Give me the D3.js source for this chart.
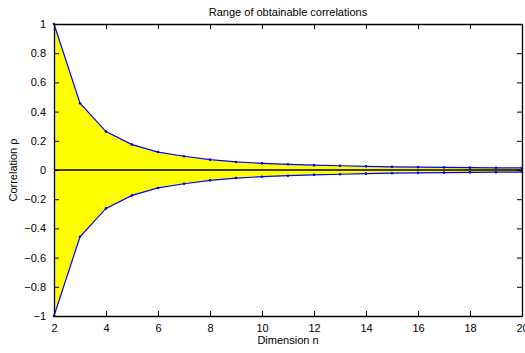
<!DOCTYPE html>
<html>
<head>
<meta charset="utf-8">
<script src="https://cdn.jsdelivr.net/npm/d3@7"></script>
<style>
  html, body { margin: 0; padding: 0; background: #fff; }
  svg { display: block; }
  text { font-family: "Liberation Sans", Arial, Helvetica, sans-serif; fill: #000; }
</style>
</head>
<body>
<svg id="chart" width="525" height="353"></svg>
<script>
// Dimension n and the bounds of the obtainable correlation
const dims = [2, 3, 4, 5, 6, 7, 8, 9, 10, 11, 12, 13, 14, 15, 16, 17, 18, 19, 20];
const upperBound = [1.0, 0.457, 0.263, 0.174, 0.123, 0.094, 0.071, 0.055, 0.046, 0.039,
                    0.033, 0.029, 0.025, 0.022, 0.020, 0.018, 0.016, 0.015, 0.014];
const lowerBound = upperBound.map(v => -v);
const xTicks = [2, 4, 6, 8, 10, 12, 14, 16, 18, 20];
const yTicks = [-1, -0.8, -0.6, -0.4, -0.2, 0, 0.2, 0.4, 0.6, 0.8, 1];

const svg = d3.select("#chart");
const m = { left: 54, right: 522, top: 24, bottom: 316 };

const x = d3.scaleLinear().domain([2, 20]).range([m.left, m.right]);
const y = d3.scaleLinear().domain([-1, 1]).range([m.bottom, m.top]);

const pts = dims.map((d, i) => ({ n: d, hi: upperBound[i], lo: lowerBound[i] }));

// Shaded band between the bounds
svg.append("path")
  .datum(pts)
  .attr("fill", "#ffff00")
  .attr("d", d3.area().x(d => x(d.n)).y0(d => y(d.lo)).y1(d => y(d.hi)));

// Zero reference line
svg.append("line")
  .attr("x1", x(2)).attr("x2", x(20))
  .attr("y1", y(0)).attr("y2", y(0))
  .attr("stroke", "#000").attr("stroke-width", 1.3);

// Bound curves with point markers
[["hi", upperBound], ["lo", lowerBound]].forEach(([key]) => {
  svg.append("path")
    .datum(pts)
    .attr("fill", "none")
    .attr("stroke", "#0000ff")
    .attr("stroke-width", 1.2)
    .attr("d", d3.line().x(d => x(d.n)).y(d => y(d[key])));
  svg.append("g").selectAll("circle")
    .data(pts).join("circle")
    .attr("cx", d => x(d.n)).attr("cy", d => y(d[key]))
    .attr("r", 1.3).attr("fill", "#0000ff");
});

// Axes: inward ticks on all four sides, labels on bottom and left
const fmt = d => d === 0 ? "0" : (d < 0 ? "\u2212" + String(-d) : String(d));

const gx = svg.append("g").attr("transform", `translate(0,${m.bottom})`)
  .call(d3.axisBottom(x).tickValues(xTicks).tickSizeInner(-5).tickSizeOuter(0).tickPadding(8));
const gy = svg.append("g").attr("transform", `translate(${m.left},0)`)
  .call(d3.axisLeft(y).tickValues(yTicks).tickFormat(fmt).tickSizeInner(-5).tickSizeOuter(0).tickPadding(8));
const gt = svg.append("g").attr("transform", `translate(0,${m.top})`)
  .call(d3.axisTop(x).tickValues(xTicks).tickFormat("").tickSizeInner(-5).tickSizeOuter(0));
const gr = svg.append("g").attr("transform", `translate(${m.right},0)`)
  .call(d3.axisRight(y).tickValues(yTicks).tickFormat("").tickSizeInner(-5).tickSizeOuter(0));

[gx, gy, gt, gr].forEach(g => {
  g.select(".domain").attr("stroke", "#000").attr("stroke-width", 1.3);
  g.selectAll(".tick line").attr("stroke", "#000").attr("stroke-width", 1);
  g.selectAll("text").attr("font-size", 11).attr("font-family", "Liberation Sans, Arial, sans-serif").attr("fill", "#000");
});
gx.selectAll(".tick text").attr("dy", "0.71em");

// Titles
svg.append("text")
  .attr("x", (m.left + m.right) / 2).attr("y", 16)
  .attr("text-anchor", "middle").attr("font-size", 11)
  .text("Range of obtainable correlations");
svg.append("text")
  .attr("x", (m.left + m.right) / 2).attr("y", 344)
  .attr("text-anchor", "middle").attr("font-size", 11)
  .text("Dimension n");
svg.append("text")
  .attr("transform", `translate(17,${(m.top + m.bottom) / 2}) rotate(-90)`)
  .attr("text-anchor", "middle").attr("font-size", 11)
  .text("Correlation \u03c1");
</script>
</body>
</html>
